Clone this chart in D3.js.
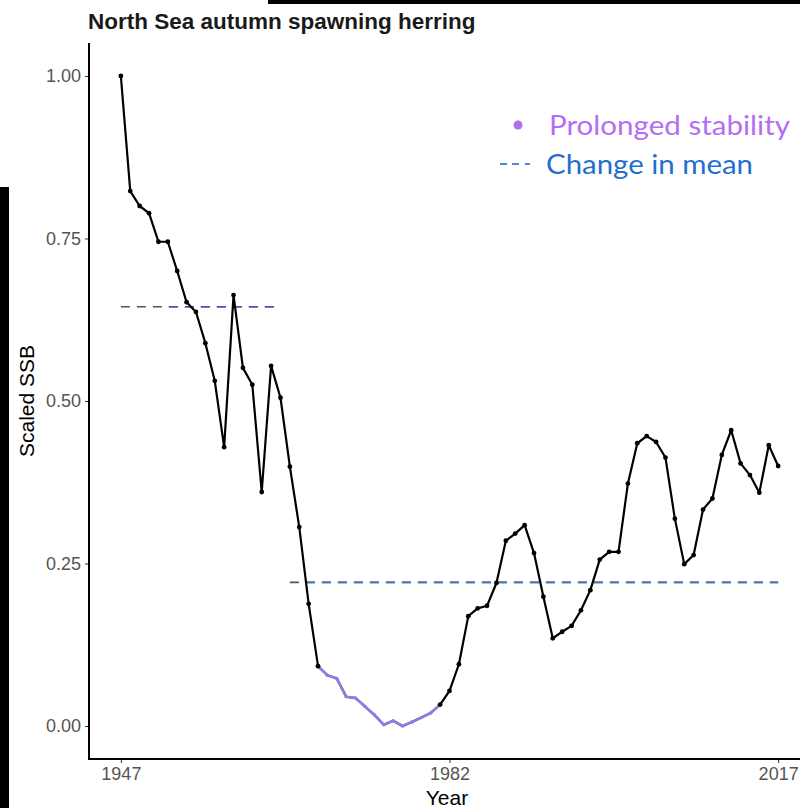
<!DOCTYPE html>
<html>
<head>
<meta charset="utf-8">
<script src="https://cdn.jsdelivr.net/npm/d3@7/dist/d3.min.js"></script>
<style>
  html, body { margin: 0; padding: 0; background: #ffffff; }
  svg { display: block; }
</style>
</head>
<body>
<script>
// Scaled spawning stock biomass, North Sea autumn spawning herring
const years = [1947,1948,1949,1950,1951,1952,1953,1954,1955,1956,1957,1958,1959,1960,
  1961,1962,1963,1964,1965,1966,1967,1968,1969,1970,1971,1972,1973,1974,1975,1976,
  1977,1978,1979,1980,1981,1982,1983,1984,1985,1986,1987,1988,1989,1990,1991,1992,
  1993,1994,1995,1996,1997,1998,1999,2000,2001,2002,2003,2004,2005,2006,2007,2008,
  2009,2010,2011,2012,2013,2014,2015,2016,2017];
const ssb = [1.000,0.823,0.800,0.789,0.745,0.745,0.700,0.652,0.637,0.589,0.531,0.429,
  0.663,0.551,0.525,0.360,0.554,0.505,0.399,0.306,0.188,0.092,0.078,0.073,0.045,0.043,
  0.030,0.017,0.002,0.008,0.000,0.006,0.013,0.020,0.033,0.054,0.095,0.169,0.181,0.185,
  0.220,0.285,0.296,0.309,0.266,0.199,0.135,0.145,0.154,0.178,0.209,0.256,0.268,0.268,
  0.373,0.435,0.446,0.437,0.413,0.319,0.249,0.263,0.333,0.350,0.417,0.455,0.404,0.386,
  0.359,0.432,0.400];

// Period flagged as prolonged stability
const stableStart = 1968;
const stableEnd = 1981;

// Regime means (change in mean)
const meanFrom = [1947, 1965];
const meanTo = [1964, 2017];
const meanValue = [0.645, 0.221];

const xTicks = [1947, 1982, 2017];
const yTicks = [0, 0.25, 0.5, 0.75, 1.0];

const W = 800, H = 808;
const svg = d3.select("body").append("svg").attr("width", W).attr("height", H);

const x = d3.scaleLinear().domain([1943.5, 2020.5]).range([88, 811]);
const y = d3.scaleLinear().domain([-0.05, 1.05]).range([758.5, 43.5]);

const data = years.map((yr, i) => ({ year: yr, value: ssb[i] }));

// Title
svg.append("text")
  .attr("x", 88).attr("y", 29)
  .attr("font-family", "Liberation Sans, Arial, sans-serif")
  .attr("font-weight", "bold")
  .attr("font-size", 22.5)
  .attr("fill", "#1a1a1a")
  .text("North Sea autumn spawning herring");

// Axes
const yAxis = d3.axisLeft(y).tickValues(yTicks).tickFormat(d3.format(".2f")).tickSize(4).tickPadding(4);
const gy = svg.append("g").attr("transform", "translate(89,0)").call(yAxis);
const xAxis = d3.axisBottom(x).tickValues(xTicks).tickFormat(d3.format("d")).tickSize(4).tickPadding(4);
const gx = svg.append("g").attr("transform", "translate(0,759)").call(xAxis);

[gx, gy].forEach(g => {
  g.select(".domain").remove();
  g.selectAll(".tick line").attr("stroke", "#333333").attr("stroke-width", 1);
  g.selectAll(".tick text")
    .attr("font-family", "Liberation Sans, Arial, sans-serif")
    .attr("font-size", 18)
    .attr("fill", "#555555");
});

svg.append("line").attr("x1", 89).attr("x2", 89).attr("y1", 43).attr("y2", 760)
  .attr("stroke", "#000").attr("stroke-width", 2);
svg.append("line").attr("x1", 88).attr("x2", W).attr("y1", 759).attr("y2", 759)
  .attr("stroke", "#000").attr("stroke-width", 2);

// Axis titles
svg.append("text")
  .attr("transform", "translate(34,401) rotate(-90)")
  .attr("text-anchor", "middle")
  .attr("font-family", "Liberation Sans, Arial, sans-serif")
  .attr("font-size", 21)
  .attr("fill", "#000")
  .text("Scaled SSB");
svg.append("text")
  .attr("x", 447).attr("y", 805)
  .attr("text-anchor", "middle")
  .attr("font-family", "Liberation Sans, Arial, sans-serif")
  .attr("font-size", 21)
  .attr("fill", "#000")
  .text("Year");

// Regime mean lines: grey dashes underneath, coloured dashes on top
const meanColors = ["#4a4fc8", "#3a7cc6"];
meanValue.forEach((v, i) => {
  svg.append("line")
    .attr("x1", x(meanFrom[i])).attr("x2", x(meanTo[i]))
    .attr("y1", y(v)).attr("y2", y(v))
    .attr("stroke", "#555").attr("stroke-width", 1.6)
    .attr("stroke-dasharray", "9,7");
  svg.append("line")
    .attr("x1", x(meanFrom[i]) + (i === 0 ? 48 : 16)).attr("x2", x(meanTo[i]))
    .attr("y1", y(v)).attr("y2", y(v))
    .attr("stroke", meanColors[i]).attr("stroke-width", 1.6)
    .attr("stroke-dasharray", "9,7");
});

// Series line
const line = d3.line().x(d => x(d.year)).y(d => y(d.value));
svg.append("path").datum(data)
  .attr("d", line)
  .attr("fill", "none").attr("stroke", "#000").attr("stroke-width", 2.2)
  .attr("stroke-linejoin", "round");

// Stable period overlay
const stable = data.filter(d => d.year >= stableStart && d.year <= stableEnd);
svg.append("path").datum(stable)
  .attr("d", line)
  .attr("fill", "none").attr("stroke", "#8a80e4").attr("stroke-width", 2.6)
  .attr("stroke-linejoin", "round");

// Points
svg.selectAll("circle.pt")
  .data(data.filter(d => d.year <= stableStart || d.year >= stableEnd))
  .join("circle").attr("class", "pt")
  .attr("cx", d => x(d.year)).attr("cy", d => y(d.value))
  .attr("r", 2.4).attr("fill", "#000");
svg.selectAll("circle.st")
  .data(stable.filter(d => d.year > stableStart && d.year < stableEnd))
  .join("circle").attr("class", "st")
  .attr("cx", d => x(d.year)).attr("cy", d => y(d.value))
  .attr("r", 1.8).attr("fill", "#8a80e4");

// Legend
svg.append("circle").attr("cx", 518).attr("cy", 125).attr("r", 4.5).attr("fill", "#b46ef2");
svg.append("text")
  .attr("x", 549).attr("y", 135)
  .attr("font-family", "Lato, sans-serif")
  .attr("font-size", 27)
  .attr("textLength", 241).attr("lengthAdjust", "spacingAndGlyphs")
  .attr("fill", "#b46ef2")
  .text("Prolonged stability");
[[500, 507], [512, 519], [525, 530]].forEach(([a, b]) => {
  svg.append("line")
    .attr("x1", a).attr("x2", b).attr("y1", 164).attr("y2", 164)
    .attr("stroke", "#1f6fcf").attr("stroke-width", 1.6);
});
svg.append("text")
  .attr("x", 546).attr("y", 174)
  .attr("font-family", "Lato, sans-serif")
  .attr("font-size", 27)
  .attr("textLength", 207).attr("lengthAdjust", "spacingAndGlyphs")
  .attr("fill", "#1f6fcf")
  .text("Change in mean");

// Frame edges
svg.append("rect").attr("x", 268).attr("y", 0).attr("width", W - 268).attr("height", 4).attr("fill", "#000");
svg.append("rect").attr("x", 0).attr("y", 187).attr("width", 9).attr("height", H - 187).attr("fill", "#000");
</script>
</body>
</html>
